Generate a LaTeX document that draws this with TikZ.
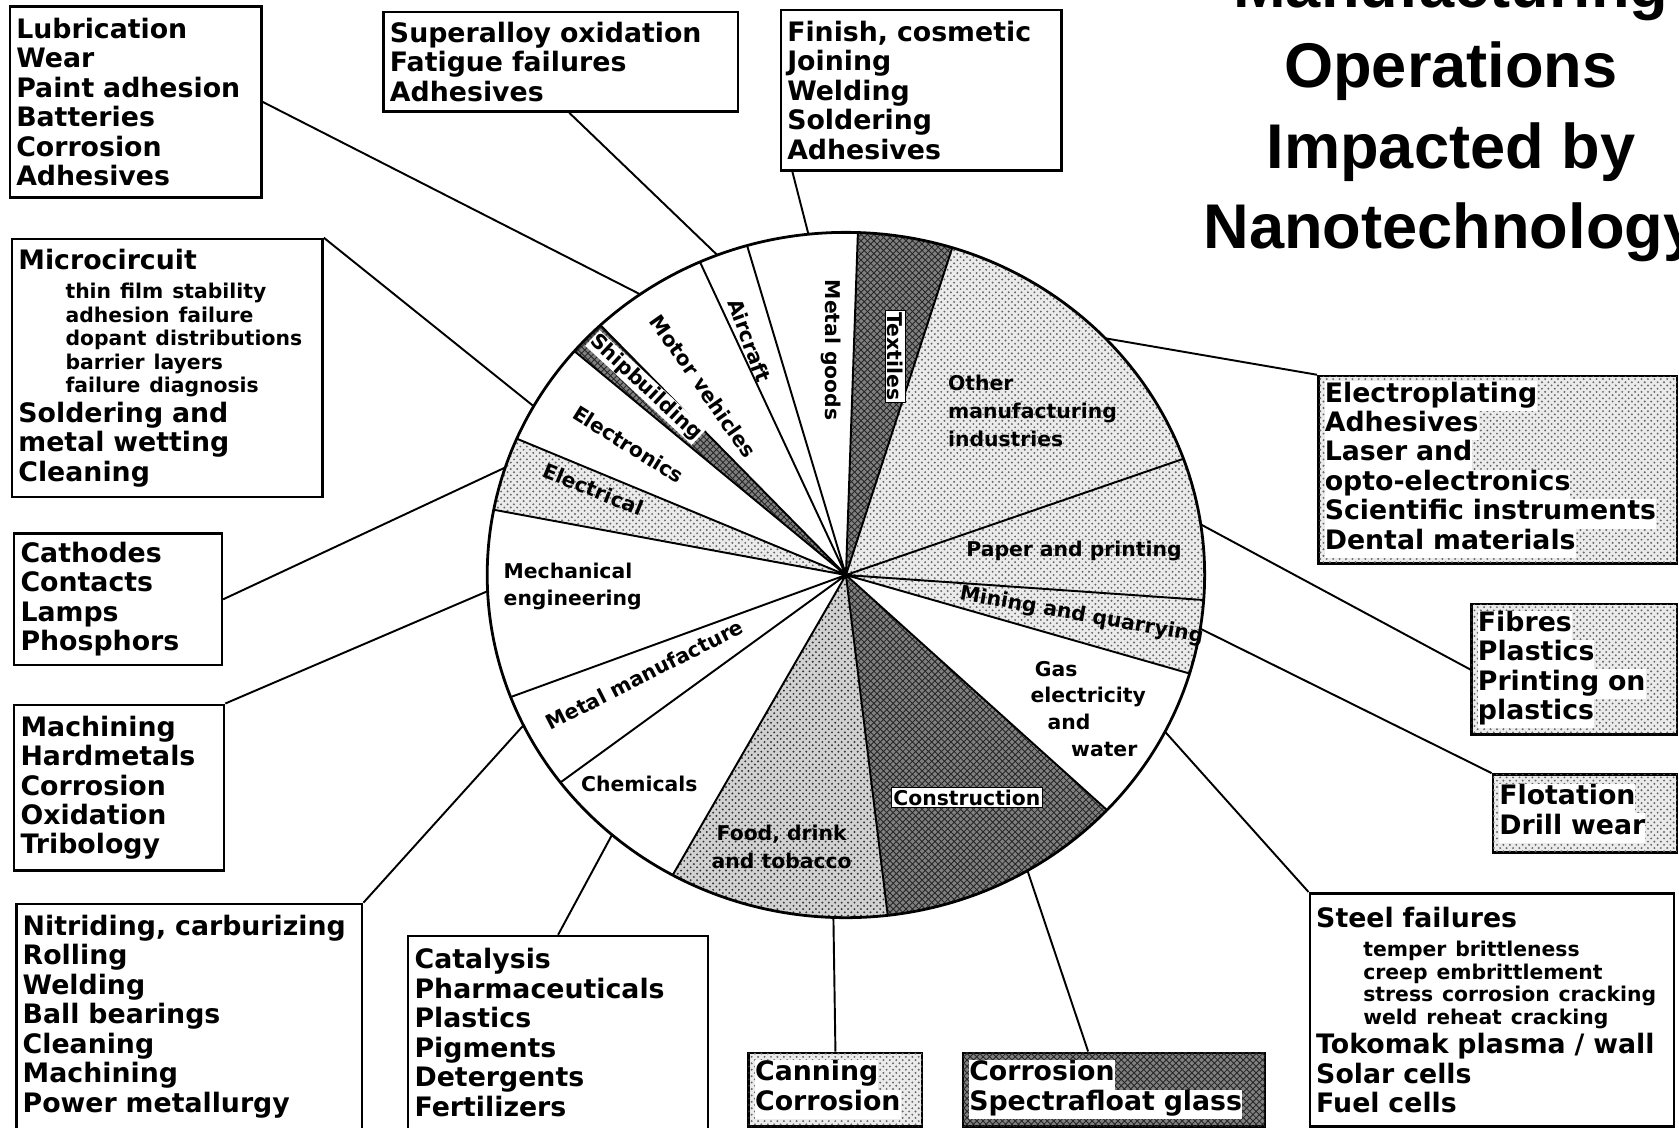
\documentclass[tikz,border=0pt]{standalone}
\usepackage{fontspec}
\setmainfont{DejaVu Sans}
\newfontfamily\headfont{Liberation Sans}
\usetikzlibrary{patterns,positioning}
\setlength{\fboxsep}{0pt}
\newcommand{\wl}[1]{\colorbox{white}{\strut #1}}
\newcommand{\subline}[1]{\hspace*{22pt}{\fontsize{9.5}{11}\selectfont #1}}
\begin{document}
\begin{tikzpicture}[x=0.5pt,y=-0.5pt]
\tikzstyle{opbox}=[draw,line width=1.2pt,anchor=north west,align=left,
inner xsep=3pt,inner ysep=2pt,font=\fontsize{12.5}{13.75}\selectfont\bfseries]
\tikzstyle{lbl}=[inner sep=1pt,font=\fontsize{9.5}{12.5}\selectfont\bfseries]
\tikzstyle{lite}=[fill=black!8,postaction={pattern=crosshatch dots,pattern color=black!60}]
\tikzstyle{mid}=[fill=black!18,postaction={pattern=crosshatch dots,pattern color=black!80}]
\tikzstyle{dark}=[fill=black!50,postaction={pattern=crosshatch,pattern color=black!85}]
\tikzstyle{tag}=[lbl,fill=white,draw,line width=0.6pt]
\tikzstyle{link}=[line width=0.9pt]
\tikzstyle{spoke}=[line width=0.9pt]
\useasboundingbox (0,0) rectangle (1568,1053);

\node[anchor=north,inner sep=0pt,align=center,
font=\headfont\bfseries\fontsize{29.5}{37.5}\selectfont] (t) at (1355,-36)
{Manufacturing\\Operations\\Impacted by\\Nanotechnology};

\coordinate (0) at (790,537);
\begin{scope}
\clip (0) ellipse [x radius=335,y radius=320];
\fill[dark] (0) -- +(-88:900) -- +(-72:900) -- cycle;
\fill[lite] (0) -- +(-72:900) -- +(-19:900) -- cycle;
\fill[lite] (0) -- +(-19:900) -- +(4:900) -- cycle;
\fill[lite] (0) -- +(4:900) -- +(16:900) -- cycle;
\fill[dark] (0) -- +(42:900) -- +(83:900) -- cycle;
\fill[mid] (0) -- +(83:900) -- +(120:900) -- cycle;
\fill[lite] (0) -- +(190.5:900) -- +(202.5:900) -- cycle;
\fill[dark] (0) -- +(219.5:900) -- +(225.5:900) -- cycle;
\draw[spoke] (0) -- +(-88:900) (0) -- +(-72:900) (0) -- +(-19:900)
(0) -- +(4:900) (0) -- +(16:900) (0) -- +(42:900) (0) -- +(83:900)
(0) -- +(120:900) (0) -- +(144:900) (0) -- +(160:900) (0) -- +(190.5:900)
(0) -- +(202.5:900) (0) -- +(219.5:900) (0) -- +(225.5:900)
(0) -- +(245:900) (0) -- +(253.3:900);
\end{scope}

\node[lbl,rotate=-90](s1) at (776,327) {Metal goods};
\node[tag,rotate=-90](s2) at (836,333) {Textiles};
\node[lbl,align=left,anchor=north west,font=\fontsize{9.5}{13}\selectfont\bfseries](s3) at (883,348) {Other\\manufacturing\\industries};
\node[lbl](s4) at (1003,515) {Paper and printing};
\node[lbl,rotate=-10](s5) at (1010,575) {Mining and quarrying};
\node[lbl,align=left,anchor=north west](s6) at (960,615) {\hspace*{2pt}Gas\\electricity\\\hspace*{8pt}and\\\hspace*{19pt}water};
\node[tag](s7) at (903,745) {Construction};
\node[lbl,align=center,font=\fontsize{9.5}{13}\selectfont\bfseries](s8) at (730,791) {Food, drink\\and tobacco};
\node[lbl](s9) at (597,732) {Chemicals};
\node[lbl,rotate=27](s10) at (602,630) {Metal manufacture};
\node[lbl,align=left,anchor=west](s11) at (468,548) {Mechanical\\engineering};
\node[lbl,rotate=-22](s12) at (554,457) {Electrical};
\node[lbl,rotate=-32](s13) at (587,415) {Electronics};
\node[lbl,rotate=-43,fill=white,inner sep=0.3pt](s14) at (603,362) {Shipbuilding};
\node[lbl,rotate=-55](s15) at (657,361) {Motor vehicles};
\node[lbl,rotate=-70](s16) at (700,318) {Aircraft};

\node[opbox,text width=111.5pt,minimum height=89pt](1) at (8,5)
{Lubrication\\Wear\\Paint adhesion\\Batteries\\Corrosion\\Adhesives};
\node[opbox,text width=159.5pt,minimum height=46.5pt](2) at (357,10)
{Superalloy oxidation\\Fatigue failures\\Adhesives};
\node[opbox,text width=125pt,minimum height=75pt](3) at (728,8)
{Finish, cosmetic\\Joining\\Welding\\Soldering\\Adhesives};
\node[opbox,text width=139pt,minimum height=120.5pt](4) at (10,222)
{Microcircuit\\\subline{thin film stability}\\[-2.75pt]\subline{adhesion failure}\\[-2.75pt]
\subline{dopant distributions}\\[-2.75pt]\subline{barrier layers}\\[-2.75pt]\subline{failure diagnosis}\\
Soldering and\\metal wetting\\Cleaning};
\node[opbox,text width=91pt,minimum height=61.5pt](5) at (12,497)
{Cathodes\\Contacts\\Lamps\\Phosphors};
\node[opbox,text width=92pt,minimum height=77.5pt](6) at (12,657)
{Machining\\Hardmetals\\Corrosion\\Oxidation\\Tribology};
\node[opbox,text width=155.5pt,minimum height=105pt](7) at (14,843)
{Nitriding, carburizing\\Rolling\\Welding\\Ball bearings\\Cleaning\\Machining\\Power metallurgy};
\node[opbox,text width=134pt,minimum height=90pt](8) at (380,873)
{Catalysis\\Pharmaceuticals\\Plastics\\Pigments\\Detergents\\Fertilizers};
\node[opbox,lite,text width=75pt,minimum height=34.5pt](9) at (698,982)
{\wl{Canning}\\\wl{Corrosion}};
\node[opbox,dark,text width=135pt,minimum height=34.5pt](10) at (898,982)
{\wl{Corrosion}\\\wl{Spectrafloat glass}};
\node[opbox,text width=164pt,minimum height=109pt](11) at (1222,833)
{Steel failures\\\subline{temper brittleness}\\[-3.25pt]\subline{creep embrittlement}\\[-3.25pt]
\subline{stress corrosion cracking}\\[-3.25pt]\subline{weld reheat cracking}\\
Tokomak plasma / wall\\Solar cells\\Fuel cells};
\node[opbox,lite,text width=80pt,minimum height=36.5pt](12) at (1393,722)
{\wl{Flotation}\\\wl{Drill wear}};
\node[opbox,lite,text width=90pt,minimum height=61pt](13) at (1373,563)
{\wl{Fibres}\\\wl{Plastics}\\\wl{Printing on}\\\wl{plastics}};
\node[opbox,lite,text width=161.5pt,minimum height=87.5pt](14) at (1230,350)
{\wl{Electroplating}\\\wl{Adhesives}\\\wl{Laser and}\\\wl{opto-electronics}\\\wl{Scientific instruments}\\\wl{Dental materials}};

\path (0) ++(-125:335 and 320) coordinate (1r);
\path (0) ++(-111:335 and 320) coordinate (2r);
\path (0) ++(-96:335 and 320) coordinate (3r);
\path (0) ++(-150.5:335 and 320) coordinate (4r);
\path (0) ++(-161.7:335 and 320) coordinate (5r);
\path (0) ++(177.3:335 and 320) coordinate (6r);
\path (0) ++(154:335 and 320) coordinate (7r);
\path (0) ++(130.7:335 and 320) coordinate (8r);
\path (0) ++(92:335 and 320) coordinate (9r);
\path (0) ++(59.6:335 and 320) coordinate (10r);
\path (0) ++(27.2:335 and 320) coordinate (11r);
\path (0) ++(9:335 and 320) coordinate (12r);
\path (0) ++(-8.5:335 and 320) coordinate (13r);
\path (0) ++(-43.7:335 and 320) coordinate (14r);

\path[link] (1.east) edge (1r);
\path[link] ([xshift=4pt]2.south) edge (2r);
\path[link] ([xshift=6pt]3.south west) edge (3r);
\path[link] (4.north east) edge (4r);
\path[link] (5.east) edge (5r);
\path[link] (6.north east) edge (6r);
\path[link] (7.north east) edge (7r);
\path[link] (8.north) edge (8r);
\path[link] (9.north) edge (9r);
\path[link] ([xshift=-12pt]10.north) edge (10r);
\path[link] (11.north west) edge (11r);
\path[link] (12.north west) edge (12r);
\path[link] (13.west) edge (13r);
\path[link] (14.north west) edge (14r);

\draw[line width=1.3pt] (0) ellipse [x radius=335,y radius=320];
\end{tikzpicture}
\end{document}
